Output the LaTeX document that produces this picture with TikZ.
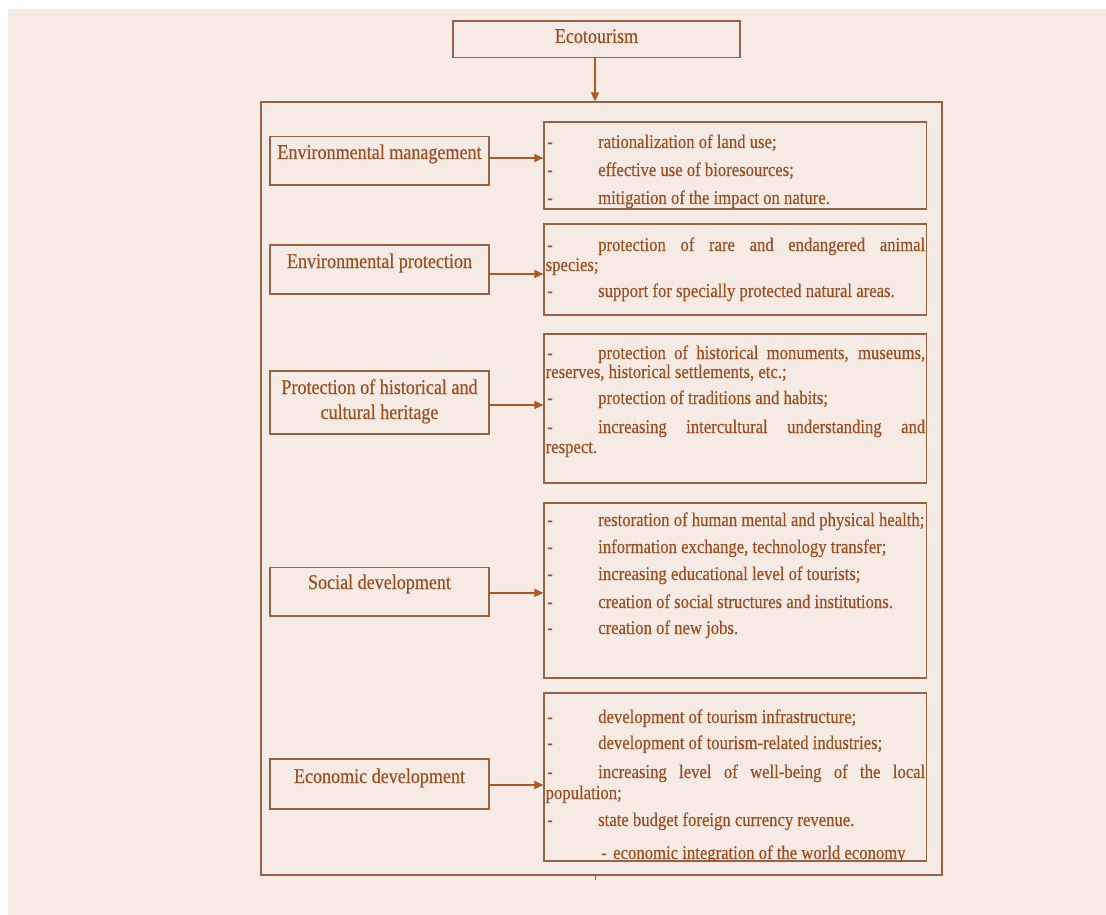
\documentclass[tikz,border=0pt]{standalone}
\usepackage{fontspec}
\setmainfont{Liberation Serif}[FakeStretch=0.86,FakeBold=0.35]
\usetikzlibrary{arrows.meta}
\definecolor{bgc}{RGB}{246,234,229}
\definecolor{linec}{RGB}{150,100,68}
\definecolor{textc}{RGB}{155,78,32}
\definecolor{arrc}{RGB}{172,88,40}
\newcommand\lblfont{\fontsize{21}{23}\selectfont}
\newcommand\itmfont{\fontsize{19.4}{21}\selectfont}
\begin{document}
\begin{tikzpicture}[x=1pt,y=-1pt,
  boxs/.style={draw=linec, line width=1.2pt, inner sep=0pt, rectangle},
  lbl/.style={anchor=base, inner sep=0pt, text=textc, font=\lblfont},
  itm/.style={anchor=base west, inner sep=0pt, text=textc, font=\itmfont},
  arr/.style={draw=arrc, line width=1.3pt, -{Triangle[length=9pt,width=8pt]}}]
\useasboundingbox (0,0) rectangle (1106,915);
\fill[white] (0,0) rectangle (1106,915);
\fill[bgc] (8,9) rectangle (1106,915);

% top box and outer frame
\node[boxs, minimum width=287pt, minimum height=36.7pt] (eco) at (596.5,39.3) {};
\node[lbl] at (596.5,43) {Ecotourism};
\node[boxs, minimum width=681pt, minimum height=773pt] (outer) at (601.5,488.5) {};
\draw[arr] ([xshift=-1.5pt]eco.south) -- ([xshift=-1.5pt]eco.south |- outer.north);
\coordinate (tickA) at (595,875);
\coordinate (tickB) at (595,880);
\draw[draw=linec, line width=1pt] (tickA) -- (tickB);

% left boxes
\node[boxs, minimum width=219pt, minimum height=48.3pt] (em) at (379.5,160.85) {};
\node[lbl] at (379.5,159) {Environmental management};
\node[boxs, minimum width=219pt, minimum height=49pt] (ep) at (379.5,269.5) {};
\node[lbl] at (379.5,268) {Environmental protection};
\node[boxs, minimum width=219pt, minimum height=63pt] (ph) at (379.5,402.5) {};
\node[lbl] at (379.5,394) {Protection of historical and};
\node[lbl] at (379.5,419) {cultural heritage};
\node[boxs, minimum width=219pt, minimum height=48.3pt] (sd) at (379.5,591.85) {};
\node[lbl] at (379.5,589) {Social development};
\node[boxs, minimum width=219pt, minimum height=50pt] (ed) at (379.5,784) {};
\node[lbl] at (379.5,783) {Economic development};

% right boxes
\node[boxs, minimum width=382.7pt, minimum height=87pt] (r1) at (735.35,165.5) {};
\node[boxs, minimum width=382.7pt, minimum height=91pt] (r2) at (735.35,269.5) {};
\node[boxs, minimum width=382.7pt, minimum height=149pt] (r3) at (735.35,408.5) {};
\node[boxs, minimum width=382.7pt, minimum height=175pt] (r4) at (735.35,590.5) {};
\node[boxs, minimum width=382.7pt, minimum height=168pt] (r5) at (735.35,777) {};

% arrows
\draw[arr] ([yshift=2.8pt]em.east) -- ([yshift=2.8pt]em.east -| r1.west);
\draw[arr] ([yshift=-4.5pt]ep.east) -- ([yshift=-4.5pt]ep.east -| r2.west);
\draw[arr] ([yshift=-2.5pt]ph.east) -- ([yshift=-2.5pt]ph.east -| r3.west);
\draw[arr] ([yshift=-1pt]sd.east) -- ([yshift=-1pt]sd.east -| r4.west);
\draw[arr] ([yshift=-1pt]ed.east) -- ([yshift=-1pt]ed.east -| r5.west);

% box 1
\node[itm] at (547,148) {-};
\node[itm] at (598,148) {rationalization of land use;};
\node[itm] at (547,176) {-};
\node[itm] at (598,176) {effective use of bioresources;};
\node[itm] at (547,204) {-};
\node[itm] at (598,204) {mitigation of the impact on nature.};

% box 2
\node[itm] at (547,251) {-};
\node[itm] at (598,251) {\makebox[327pt][s]{protection of rare and endangered animal}};
\node[itm] at (545.5,271) {species;};
\node[itm] at (547,297) {-};
\node[itm] at (598,297) {support for specially protected natural areas.};

% box 3
\node[itm] at (547,359) {-};
\node[itm] at (598,359) {\makebox[327pt][s]{protection of historical monuments, museums,}};
\node[itm] at (545.5,378) {reserves, historical settlements, etc.;};
\node[itm] at (547,404) {-};
\node[itm] at (598,404) {protection of traditions and habits;};
\node[itm] at (547,433) {-};
\node[itm] at (598,433) {\makebox[327pt][s]{increasing intercultural understanding and}};
\node[itm] at (545.5,453) {respect.};

% box 4
\node[itm] at (547,526) {-};
\node[itm] at (598,526) {restoration of human mental and physical health;};
\node[itm] at (547,553) {-};
\node[itm] at (598,553) {information exchange, technology transfer;};
\node[itm] at (547,580) {-};
\node[itm] at (598,580) {increasing educational level of tourists;};
\node[itm] at (547,608) {-};
\node[itm] at (598,608) {creation of social structures and institutions.};
\node[itm] at (547,634) {-};
\node[itm] at (598,634) {creation of new jobs.};

% box 5
\node[itm] at (547,723) {-};
\node[itm] at (598,723) {development of tourism infrastructure;};
\node[itm] at (547,749) {-};
\node[itm] at (598,749) {development of tourism-related industries;};
\node[itm] at (547,778) {-};
\node[itm] at (598,778) {\makebox[327pt][s]{increasing level of well-being of the local}};
\node[itm] at (545.5,799) {population;};
\node[itm] at (547,826) {-};
\node[itm] at (598,826) {state budget foreign currency revenue.};
\begin{scope}
\clip (544,830) rectangle (927,861);
\node[itm] at (601,859) {-};
\node[itm] at (613,859) {economic integration of the world economy};
\end{scope}
\end{tikzpicture}
\end{document}
